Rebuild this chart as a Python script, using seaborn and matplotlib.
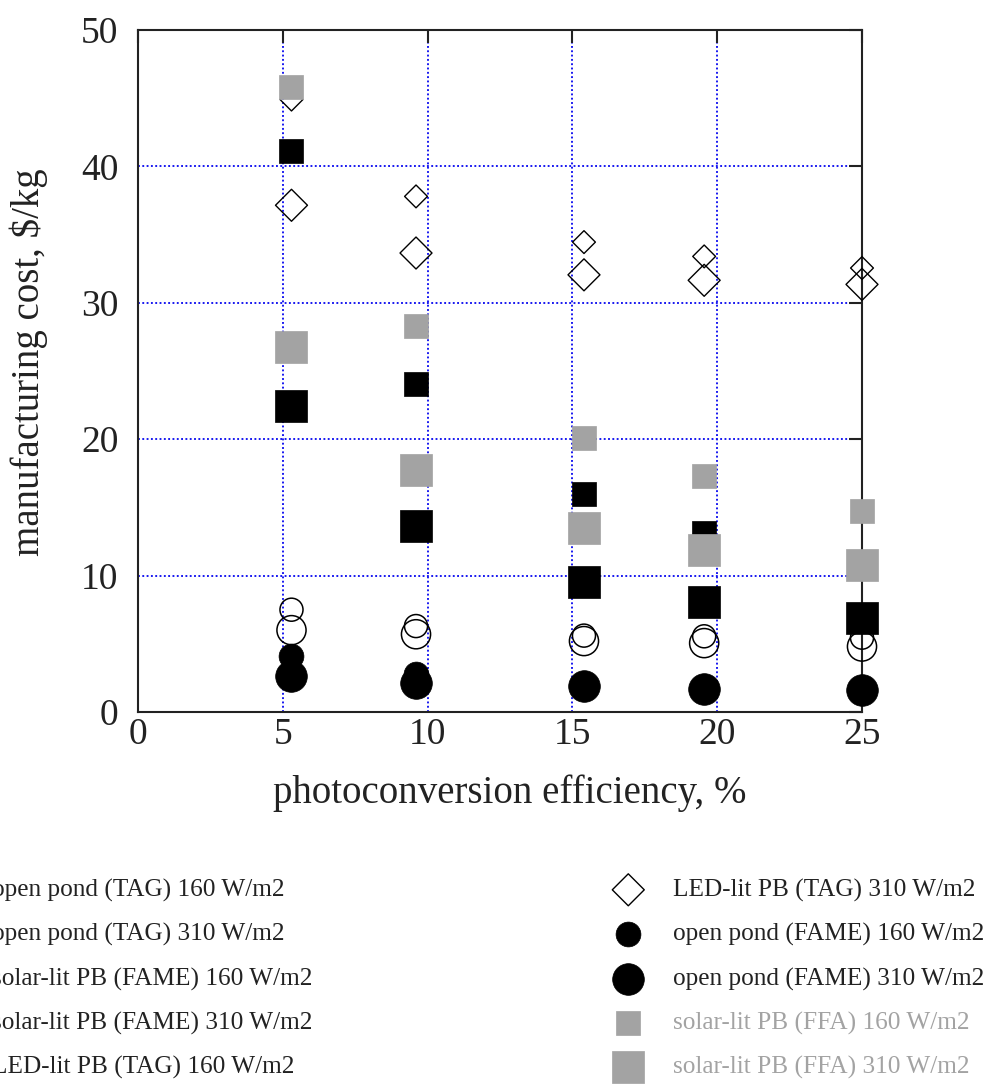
import matplotlib
matplotlib.use("Agg")
import matplotlib.pyplot as plt
import seaborn as sns
import pandas as pd

# ---- data ----
efficiency = [5.3, 9.6, 15.4, 19.55, 25.0]
xticks = [0, 5, 10, 15, 20, 25]
yticks = [0, 10, 20, 30, 40, 50]

op_tag_160 = [7.5, 6.3, 5.6, 5.55, 5.45]
op_tag_310 = [6.0, 5.7, 5.2, 5.05, 4.8]
sl_fame_160 = [41.1, 24.05, 16.0, 13.15, 10.8]
sl_fame_310 = [22.45, 13.6, 9.5, 8.1, 6.9]
led_tag_160 = [44.9, 37.8, 34.45, 33.4, 32.55]
led_tag_310 = [37.15, 33.65, 32.05, 31.65, 31.35]
op_fame_160 = [4.1, 2.8, 2.0, 1.75, 1.65]
op_fame_310 = [2.65, 2.1, 1.9, 1.65, 1.6]
sl_ffa_160 = [45.8, 28.3, 20.1, 17.3, 14.7]
sl_ffa_310 = [26.75, 17.75, 13.5, 11.9, 10.8]

labels = [
    "open pond (TAG) 160 W/m2",
    "open pond (TAG) 310 W/m2",
    "solar-lit PB (FAME) 160 W/m2",
    "solar-lit PB (FAME) 310 W/m2",
    "LED-lit PB (TAG) 160 W/m2",
    "LED-lit PB (TAG) 310 W/m2",
    "open pond (FAME) 160 W/m2",
    "open pond (FAME) 310 W/m2",
    "solar-lit PB (FFA) 160 W/m2",
    "solar-lit PB (FFA) 310 W/m2",
]
series = [op_tag_160, op_tag_310, sl_fame_160, sl_fame_310, led_tag_160,
          led_tag_310, op_fame_160, op_fame_310, sl_ffa_160, sl_ffa_310]

GRAY = "#a3a3a3"
styles = [
    dict(marker="o", s=275, facecolor="none", edgecolor="black", color="black", linewidth=1.1),
    dict(marker="o", s=440, facecolor="none", edgecolor="black", color="black", linewidth=1.1),
    dict(marker="s", s=280, color="black", edgecolor="black", linewidth=0.5),
    dict(marker="s", s=530, color="black", edgecolor="black", linewidth=0.5),
    dict(marker="D", s=135, facecolor="none", edgecolor="black", color="black", linewidth=1.0),
    dict(marker="D", s=265, facecolor="none", edgecolor="black", color="black", linewidth=1.0),
    dict(marker="o", s=320, color="black", edgecolor="black", linewidth=0.5),
    dict(marker="o", s=520, color="black", edgecolor="black", linewidth=0.5),
    dict(marker="s", s=280, color=GRAY, edgecolor=GRAY, linewidth=0.5),
    dict(marker="s", s=530, color=GRAY, edgecolor=GRAY, linewidth=0.5),
]
text_colors = ["#222222"] * 8 + [GRAY, GRAY]

sns.set_style("white")
plt.rcParams["font.family"] = ["Liberation Serif", "DejaVu Serif"]

fig = plt.figure(figsize=(9.92, 10.86), dpi=100)
ax = fig.add_axes([138 / 992, 1 - 712 / 1086, 724 / 992, 682 / 1086])

for lab, vals, st in zip(labels, series, styles):
    df = pd.DataFrame({"eff": efficiency, "cost": vals})
    sns.scatterplot(data=df, x="eff", y="cost", ax=ax, label=lab, zorder=3,
                    clip_on=False, **st)

ax.set_xlim(0, 25)
ax.set_ylim(0, 50)
ax.set_xticks(xticks)
ax.set_yticks(yticks)
ax.grid(True, color="#1010f0", linestyle=(0, (1, 1.3)), linewidth=1.35, zorder=1)
ax.set_axisbelow(True)
for sp in ax.spines.values():
    sp.set_color("#222222")
    sp.set_linewidth(1.5)
    sp.set_visible(True)
ax.tick_params(axis="both", direction="in", length=9.5, width=1.5, color="#222222",
               top=True, right=True, labelsize=27, labelcolor="#222222")
ax.tick_params(axis="y", pad=14)
ax.tick_params(axis="x", pad=4)
ax.set_xlabel("photoconversion efficiency, %", fontsize=28, color="#222222")
ax.set_ylabel("manufacturing cost, $/kg", fontsize=28, color="#222222")
ax.xaxis.set_label_coords(0.514, -0.091)
ax.yaxis.set_label_coords(-0.124, 0.513)

handles, labs = ax.get_legend_handles_labels()
if ax.get_legend():
    ax.get_legend().remove()

common = dict(frameon=False, fontsize=18.2, handlelength=2.0, handletextpad=0.75,
              labelspacing=0.84, borderpad=0, borderaxespad=0, scatterpoints=1,
              bbox_transform=fig.transFigure, loc="center left")
leg1 = ax.legend(handles[:5], labs[:5], bbox_to_anchor=(-78 / 992, 1 - 979 / 1086), **common)
for t, c in zip(leg1.get_texts(), text_colors[:5]):
    t.set_color(c)
ax.add_artist(leg1)
leg2 = ax.legend(handles[5:], labs[5:], bbox_to_anchor=(603 / 992, 1 - 979 / 1086), **common)
for t, c in zip(leg2.get_texts(), text_colors[5:]):
    t.set_color(c)

fig.savefig("out.png", dpi=100)
